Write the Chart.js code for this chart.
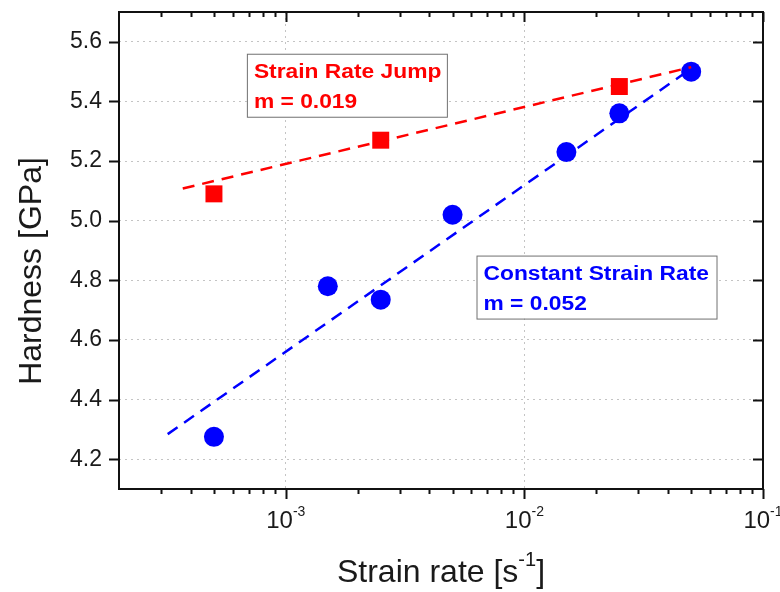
<!DOCTYPE html>
<html>
<head>
<meta charset="utf-8">
<script src="https://cdn.jsdelivr.net/npm/chart.js@4.4.1/dist/chart.umd.min.js"></script>
<style>
html, body { margin: 0; padding: 0; background: #fff; }
#wrap { width: 780px; height: 592px; }
</style>
</head>
<body>
<div id="wrap"><canvas id="myChart"></canvas></div>
<script>
// values
var constRates = [5e-4, 1.5e-3, 2.5e-3, 5e-3, 1.5e-2, 2.5e-2, 5e-2];
var constHardness = [4.275, 4.78, 4.735, 5.02, 5.23, 5.36, 5.50];
var jumpRates = [5e-4, 2.5e-3, 2.5e-2];
var jumpHardness = [5.09, 5.27, 5.45];

// power law fits, end points only
var constFitRates = [3.2e-4, 5e-2];
var constFitHardness = [4.284, 5.51];
var jumpFitRates = [3.7e-4, 5e-2];
var jumpFitHardness = [5.108, 5.515];

var xMajorTicks = [1e-3, 1e-2, 1e-1];
var xTickExponents = ['-3', '-2', '-1'];
var xMinorMultiples = [2, 3, 4, 5, 6, 7, 8, 9];
var yTicks = [4.2, 4.4, 4.6, 4.8, 5.0, 5.2, 5.4, 5.6];

var jumpLabel = ['Strain Rate Jump', 'm = 0.019'];
var constLabel = ['Constant Strain Rate', 'm = 0.052'];

var FONT = '"Liberation Sans", Arial, sans-serif';
var RED = '#ff0000';
var BLUE = '#0000ff';

function pts(xs, ys) {
    return xs.map(function (x, i) { return { x: x, y: ys[i] }; });
}

function textBox(ctx, x, y, w, h, lines, color) {
    ctx.save();
    ctx.fillStyle = '#fff';
    ctx.fillRect(x, y, w, h);
    ctx.strokeStyle = '#707070';
    ctx.lineWidth = 1;
    ctx.strokeRect(x + 0.5, y + 0.5, w, h);
    ctx.fillStyle = color;
    ctx.font = 'bold 20px ' + FONT;
    ctx.textBaseline = 'alphabetic';
    // the original lettering is a bit wider than it is tall
    ctx.translate(x + 7, y);
    ctx.scale(1.14, 1);
    ctx.fillText(lines[0], 0, 24);
    ctx.fillText(lines[1], 0, 54);
    ctx.restore();
}

function noPad(scale) {
    scale.paddingTop = 0;
    scale.paddingBottom = 0;
    scale.paddingLeft = 0;
    scale.paddingRight = 0;
}

var axesPlugin = {
    id: 'axesPlugin',
    afterDatasetsDraw: function (chart) {
        var ctx = chart.ctx;
        var xs = chart.scales.x, ys = chart.scales.y;
        textBox(ctx, xs.getPixelForValue(6.87e-4), ys.getPixelForValue(5.56), 200, 63, jumpLabel, RED);
        textBox(ctx, xs.getPixelForValue(6.3e-3), ys.getPixelForValue(4.883), 240, 63, constLabel, BLUE);
    },
    afterDraw: function (chart) {
        var ctx = chart.ctx;
        var a = chart.chartArea;
        var xs = chart.scales.x, ys = chart.scales.y;
        ctx.save();
        ctx.strokeStyle = '#111';
        ctx.lineWidth = 2;
        ctx.strokeRect(a.left, a.top, a.right - a.left, a.bottom - a.top);

        // tick marks
        ctx.beginPath();
        for (var d = -4; d <= -2; d++) {
            xMinorMultiples.forEach(function (m) {
                var v = m * Math.pow(10, d);
                if (v <= xs.min || v >= xs.max) return;
                var px = Math.round(xs.getPixelForValue(v)) + 0.5;
                ctx.moveTo(px, a.bottom); ctx.lineTo(px, a.bottom + 5);
                ctx.moveTo(px, a.top); ctx.lineTo(px, a.top + 5);
            });
        }
        xMajorTicks.forEach(function (v) {
            var px = Math.round(xs.getPixelForValue(v)) + 0.5;
            ctx.moveTo(px, a.bottom); ctx.lineTo(px, a.bottom + 10);
            ctx.moveTo(px, a.top); ctx.lineTo(px, a.top + 10);
        });
        yTicks.forEach(function (v) {
            var py = Math.round(ys.getPixelForValue(v)) + 0.5;
            ctx.moveTo(a.left - 10, py); ctx.lineTo(a.left, py);
            ctx.moveTo(a.right - 10, py); ctx.lineTo(a.right, py);
        });
        ctx.stroke();

        // x tick labels with superscript
        ctx.fillStyle = '#1a1a1a';
        ctx.textBaseline = 'alphabetic';
        xMajorTicks.forEach(function (v, i) {
            var px = xs.getPixelForValue(v);
            ctx.font = '24px ' + FONT;
            var w1 = ctx.measureText('10').width;
            ctx.font = '14px ' + FONT;
            var w2 = ctx.measureText(xTickExponents[i]).width;
            var x0 = px - (w1 + w2) / 2;
            ctx.font = '24px ' + FONT;
            ctx.fillText('10', x0, a.bottom + 39);
            ctx.font = '14px ' + FONT;
            ctx.fillText(xTickExponents[i], x0 + w1, a.bottom + 27);
        });

        // x title
        ctx.font = '32px ' + FONT;
        var t1 = 'Strain rate [s', t3 = ']';
        var w1 = ctx.measureText(t1).width, w3 = ctx.measureText(t3).width;
        ctx.font = '20px ' + FONT;
        var w2 = ctx.measureText('-1').width;
        var cx = (a.left + a.right) / 2;
        var x0 = cx - (w1 + w2 + w3) / 2;
        ctx.font = '32px ' + FONT;
        ctx.fillText(t1, x0, 582);
        ctx.fillText(t3, x0 + w1 + w2, 582);
        ctx.font = '20px ' + FONT;
        ctx.fillText('-1', x0 + w1, 566);

        // y title
        ctx.translate(41, 271);
        ctx.rotate(-Math.PI / 2);
        ctx.font = '32px ' + FONT;
        ctx.textAlign = 'center';
        ctx.fillText('Hardness [GPa]', 0, 0);
        ctx.restore();
    }
};

var ctx = document.getElementById('myChart').getContext('2d');
var chart = new Chart(ctx, {
    type: 'scatter',
    data: {
        datasets: [{
            type: 'line',
            data: pts(jumpFitRates, jumpFitHardness),
            borderColor: RED,
            borderWidth: 2.5,
            borderDash: [12, 8],
            pointRadius: 0,
            fill: false
        }, {
            type: 'line',
            data: pts(constFitRates, constFitHardness),
            borderColor: BLUE,
            borderWidth: 2.5,
            borderDash: [12, 8],
            pointRadius: 0,
            fill: false
        }, {
            data: pts(jumpRates, jumpHardness),
            pointStyle: 'rect',
            pointRadius: 12,
            backgroundColor: RED,
            borderWidth: 0
        }, {
            data: pts(constRates, constHardness),
            pointStyle: 'circle',
            pointRadius: 10,
            backgroundColor: BLUE,
            borderWidth: 0
        }]
    },
    options: {
        responsive: true,
        maintainAspectRatio: false,
        animation: false,
        layout: { padding: { top: 11, right: 17, left: 0, bottom: 0 } },
        plugins: {
            legend: { display: false },
            tooltip: { enabled: false }
        },
        scales: {
            x: {
                type: 'logarithmic',
                min: 2e-4,
                max: 1e-1,
                afterBuildTicks: function (scale) {
                    scale.ticks = xMajorTicks.map(function (v) { return { value: v }; });
                },
                afterFit: function (scale) { scale.height = 103; noPad(scale); },
                ticks: { display: false },
                grid: { color: '#c4c4c4', lineWidth: 1, drawTicks: false },
                border: { display: false, dash: [2, 4] }
            },
            y: {
                min: 4.1,
                max: 5.7,
                afterBuildTicks: function (scale) {
                    scale.ticks = yTicks.map(function (v) { return { value: v }; });
                },
                afterFit: function (scale) { scale.width = 119; noPad(scale); },
                ticks: {
                    padding: 17,
                    color: '#1a1a1a',
                    font: { family: FONT, size: 23 },
                    callback: function (v) { return Number(v).toFixed(1); }
                },
                grid: { color: '#c4c4c4', lineWidth: 1, drawTicks: false },
                border: { display: false, dash: [2, 4] }
            }
        }
    },
    plugins: [axesPlugin]
});
</script>
</body>
</html>
